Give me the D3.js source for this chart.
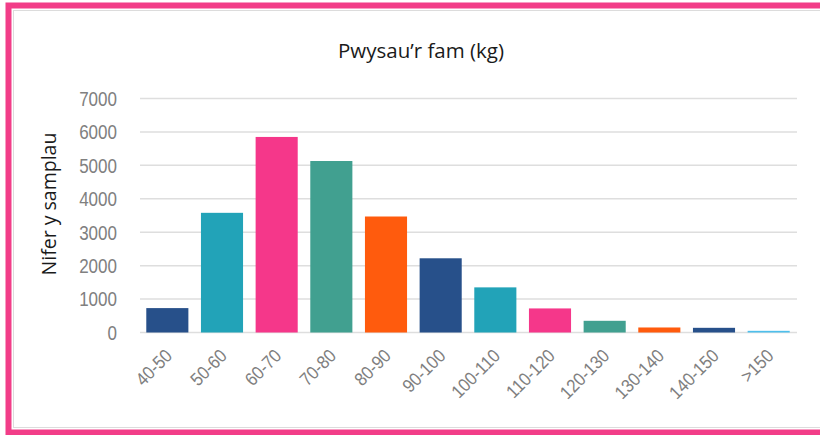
<!DOCTYPE html>
<html lang="cy">
<head>
<meta charset="utf-8">
<title>Pwysau'r fam (kg)</title>
<script src="https://cdn.jsdelivr.net/npm/d3@7"></script>
<style>
  body { margin: 0; background: #fff; }
  svg { display: block; }
</style>
</head>
<body>
<svg></svg>
<script>
// data
var categories = ["40-50","50-60","60-70","70-80","80-90","90-100","100-110","110-120","120-130","130-140","140-150",">150"];
var counts = [730, 3580, 5850, 5130, 3470, 2220, 1350, 720, 350, 150, 140, 50];
var barColors = ["#27508a","#22a3b8","#f5378a","#41a090","#ff5b0d","#27508a","#22a3b8","#f5378a","#41a090","#ff5b0d","#27508a","#4dbfec"];
var yTicks = [0,1000,2000,3000,4000,5000,6000,7000];

var width = 820, height = 435;
var svg = d3.select("svg").attr("width", width).attr("height", height);

// frame
svg.append("rect")
  .attr("x", 13.5).attr("y", 10.5)
  .attr("width", 820).attr("height", 417)
  .attr("fill", "none").attr("stroke", "#dcdcdc").attr("stroke-width", 1);
svg.append("rect")
  .attr("x", 8.5).attr("y", 5.5)
  .attr("width", 830).attr("height", 427)
  .attr("fill", "none").attr("stroke", "#f23d88").attr("stroke-width", 6);

var x = d3.scaleBand().domain(categories).range([140, 796]).paddingInner(0.23).paddingOuter(0.115);
var y = d3.scaleLinear().domain([0, 7000]).range([332.5, 98.5]);

// grid
svg.append("g").selectAll("line")
  .data(yTicks)
  .enter().append("line")
  .attr("x1", 140).attr("x2", 797)
  .attr("y1", function(d){ return y(d); })
  .attr("y2", function(d){ return y(d); })
  .attr("stroke", "#dedede").attr("stroke-width", 1.5);

// y labels (narrowed like the original)
svg.append("g").selectAll("text")
  .data(yTicks)
  .enter().append("text")
  .attr("text-anchor", "end")
  .attr("dy", "0.36em")
  .attr("font-family", "Liberation Sans, Arial, sans-serif")
  .attr("font-size", 20.5)
  .attr("fill", "#808080")
  .attr("transform", function(d){ return "translate(117," + y(d) + ") scale(0.83,1)"; })
  .text(function(d){ return d; });

// bars
svg.append("g").selectAll("rect")
  .data(counts)
  .enter().append("rect")
  .attr("x", function(d,i){ return x(categories[i]); })
  .attr("width", x.bandwidth())
  .attr("y", function(d){ return y(d); })
  .attr("height", function(d){ return y(0) - y(d); })
  .attr("fill", function(d,i){ return barColors[i]; });

// x labels
svg.append("g").selectAll("text")
  .data(categories)
  .enter().append("text")
  .attr("text-anchor", "end")
  .attr("font-family", "Liberation Sans, Arial, sans-serif")
  .attr("font-size", 18.5)
  .attr("fill", "#808080")
  .attr("transform", function(d){
    var cx = x(d) + x.bandwidth()/2 + 6;
    return "translate(" + cx + ",357) rotate(-45) scale(0.9,1)";
  })
  .text(function(d){ return d; });

// title
svg.append("text")
  .attr("x", 421).attr("y", 58)
  .attr("text-anchor", "middle")
  .attr("font-family", "Open Sans, Noto Sans, sans-serif")
  .attr("font-size", 20.5)
  .attr("fill", "#1a1a1a")
  .text("Pwysau\u2019r fam (kg)");

// y axis title
svg.append("text")
  .attr("transform", "translate(56,204) rotate(-90)")
  .attr("text-anchor", "middle")
  .attr("font-family", "Open Sans, Noto Sans, sans-serif")
  .attr("font-size", 19.5)
  .attr("fill", "#1a1a1a")
  .text("Nifer y samplau");
</script>
</body>
</html>
